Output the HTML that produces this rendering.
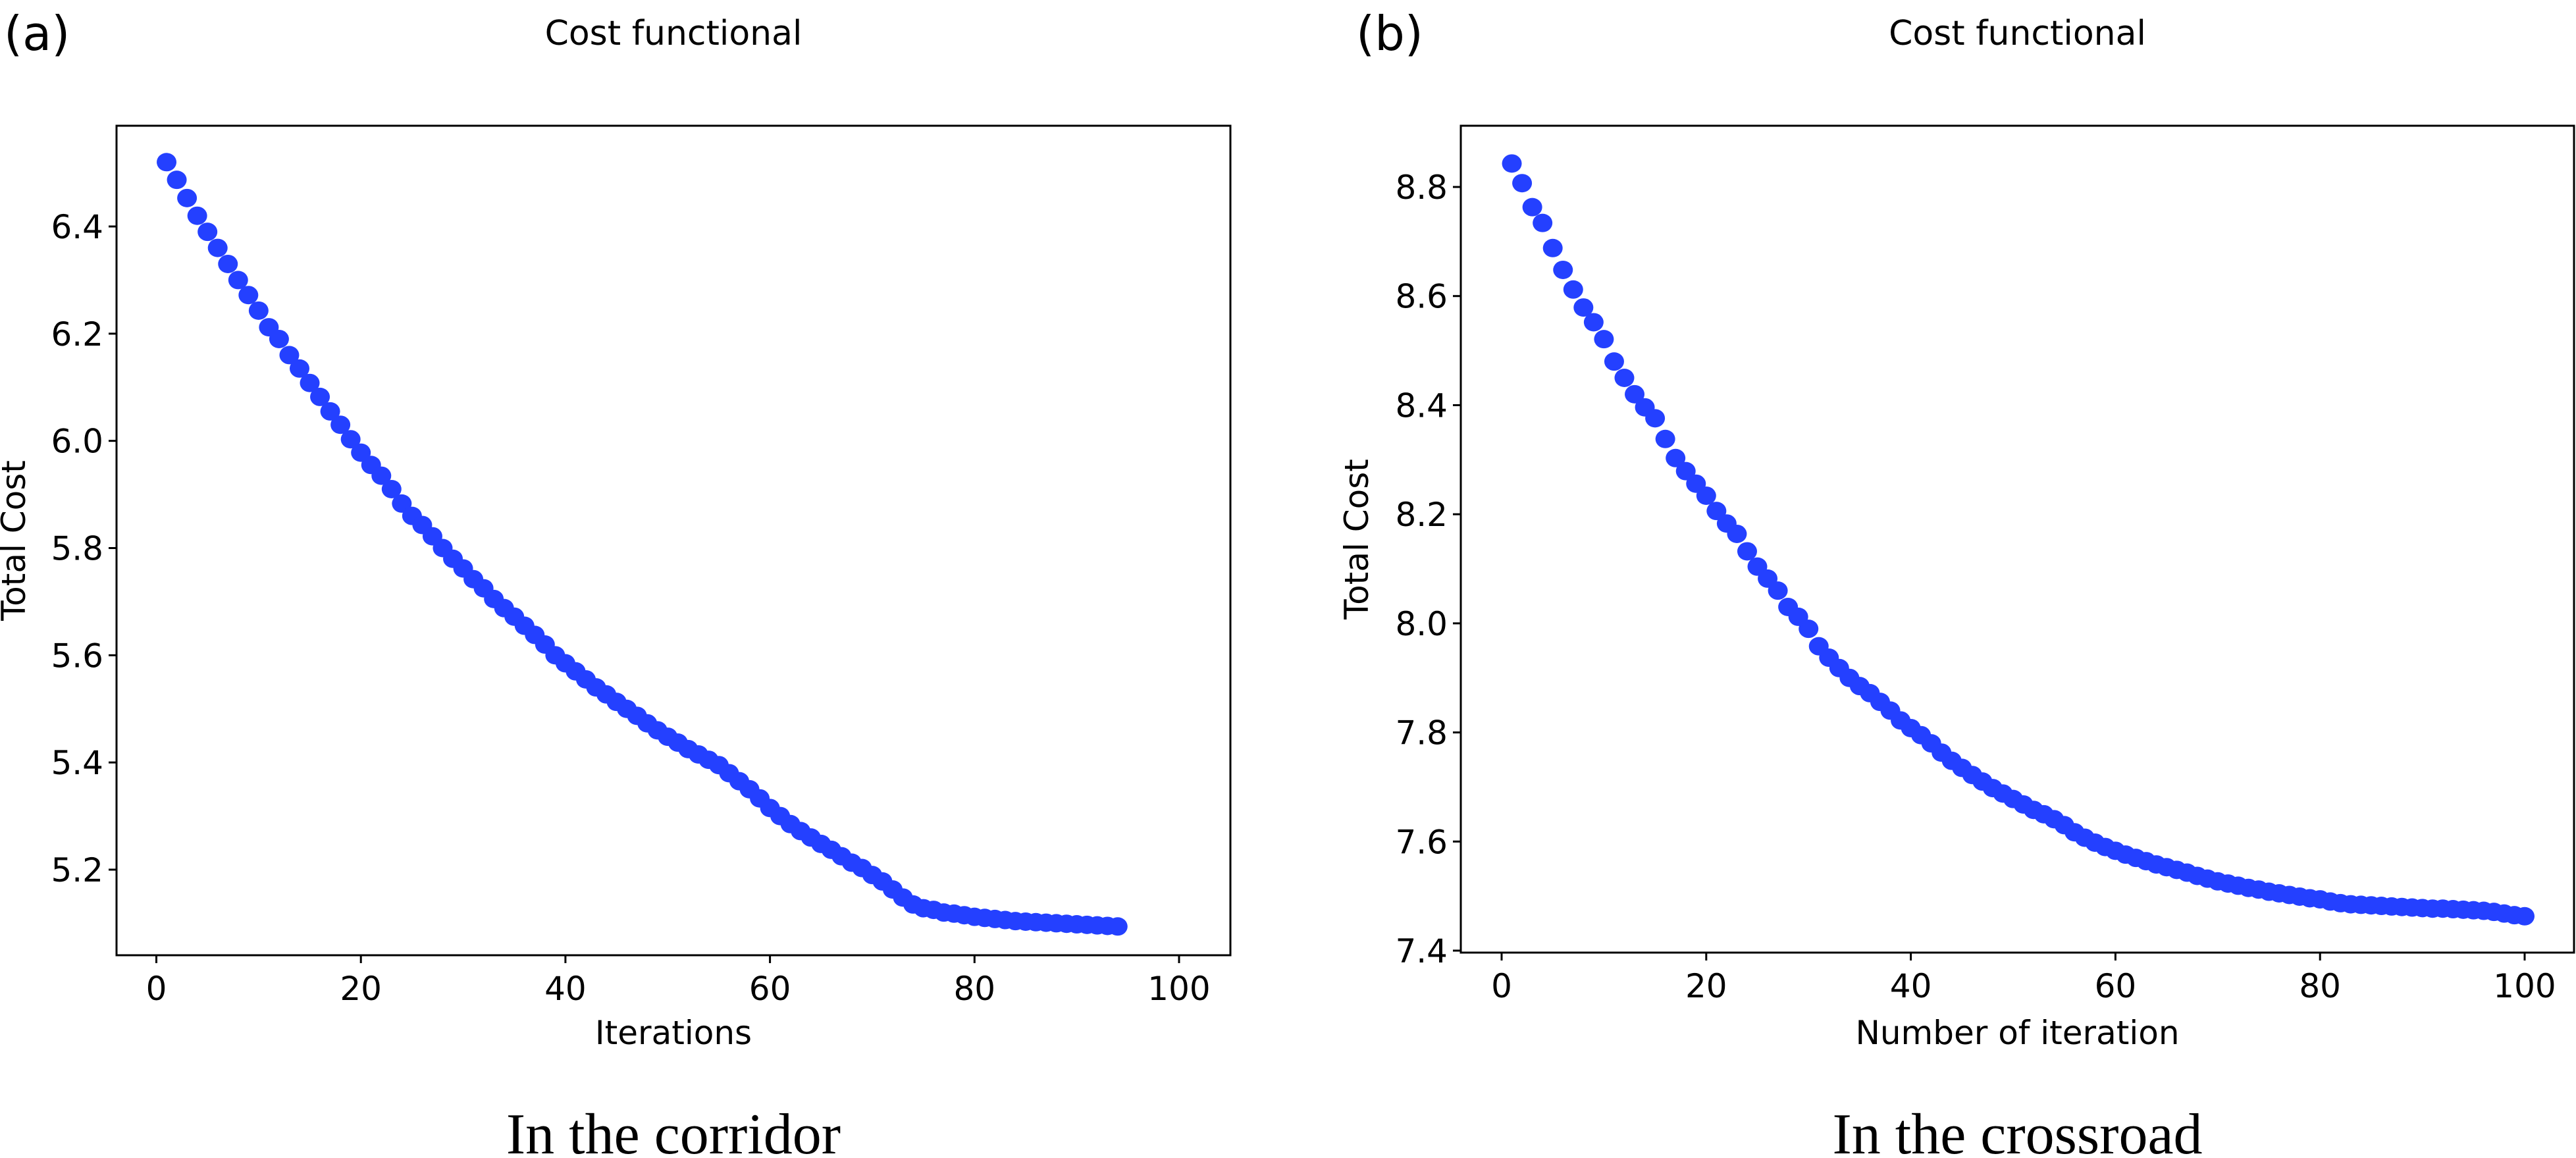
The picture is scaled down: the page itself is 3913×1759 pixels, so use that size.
<!DOCTYPE html>
<html><head><meta charset="utf-8">
<style>
html,body{margin:0;padding:0;background:#fff;}
svg{display:block;}
text{font-family:"DejaVu Sans","Liberation Sans",sans-serif;fill:#000;}
.cap{font-family:"Liberation Serif",serif;}
</style></head>
<body>
<svg id="fig" width="3913" height="1759" viewBox="0 0 3913 1759" xmlns="http://www.w3.org/2000/svg"></svg>
<script>
const xTicks = [0,20,40,60,80,100];
const leftYTicks = [5.2,5.4,5.6,5.8,6.0,6.4,6.2];
const rightYTicks = [7.4,7.6,7.8,8.0,8.2,8.4,8.6,8.8];
const leftCost = [6.52,6.487,6.453,6.42,6.39,6.36,6.33,6.30,6.272,6.243,6.212,6.19,6.16,6.135,6.108,6.082,6.055,6.03,6.003,5.978,5.955,5.935,5.91,5.883,5.86,5.843,5.822,5.80,5.78,5.762,5.742,5.725,5.705,5.688,5.672,5.655,5.638,5.62,5.6,5.585,5.57,5.555,5.54,5.527,5.513,5.50,5.487,5.473,5.46,5.448,5.437,5.425,5.415,5.405,5.395,5.38,5.365,5.35,5.333,5.315,5.30,5.285,5.272,5.26,5.248,5.237,5.225,5.213,5.203,5.19,5.178,5.163,5.148,5.135,5.128,5.125,5.12,5.118,5.115,5.112,5.11,5.108,5.106,5.104,5.103,5.102,5.101,5.1,5.099,5.098,5.097,5.096,5.095,5.094];
const rightCost = [8.843,8.807,8.763,8.734,8.688,8.648,8.612,8.579,8.552,8.521,8.48,8.45,8.42,8.396,8.376,8.338,8.303,8.279,8.256,8.234,8.206,8.183,8.164,8.132,8.104,8.082,8.06,8.03,8.012,7.99,7.958,7.937,7.918,7.9,7.885,7.872,7.856,7.84,7.822,7.808,7.795,7.78,7.763,7.748,7.735,7.722,7.71,7.698,7.688,7.678,7.668,7.658,7.65,7.641,7.63,7.617,7.607,7.598,7.59,7.583,7.576,7.57,7.564,7.558,7.553,7.548,7.543,7.537,7.532,7.527,7.523,7.519,7.515,7.512,7.508,7.505,7.502,7.499,7.496,7.494,7.49,7.487,7.485,7.484,7.483,7.482,7.481,7.48,7.479,7.478,7.477,7.477,7.476,7.475,7.474,7.473,7.471,7.468,7.465,7.463];

const NS="http://www.w3.org/2000/svg";
const svg=document.getElementById('fig');
function mk(tag,attrs,parent,txt){const e=document.createElementNS(NS,tag);for(const k in attrs)e.setAttribute(k,attrs[k]);if(txt!==undefined)e.textContent=txt;(parent||svg).appendChild(e);return e;}

function panel(cfg){
  const g=mk('g',{});
  
  
  const xs=v=>cfg.x0px+(v-0)*(cfg.x100px-cfg.x0px)/100;
  const ys=v=>cfg.yApx+(v-cfg.yA)*(cfg.yBpx-cfg.yApx)/(cfg.yB-cfg.yA);
  // points
  const pg=mk('g',{},g);
  
  
  cfg.data.forEach((v,i)=>{
    const c=mk('ellipse',{cx:xs(i+1),cy:ys(v),rx:15,ry:14,fill:'#2440ff'},pg);
    
    
  });
  const box=mk('rect',{x:cfg.bx0,y:cfg.by0,width:cfg.bx1-cfg.bx0,height:cfg.by1-cfg.by0,fill:'none',stroke:'#000','stroke-width':3},g);
  
  
  xTicks.forEach(t=>{
    const x=xs(t);
    mk('line',{x1:x,x2:x,y1:cfg.by1,y2:cfg.by1+12,stroke:'#000','stroke-width':3},g);
    const l=mk('text',{x:x,y:cfg.by1+68,'font-size':50,'text-anchor':'middle'},g,String(t));
    
    
  });
  cfg.yTicks.forEach(t=>{
    const y=ys(t);
    mk('line',{x1:cfg.bx0-12,x2:cfg.bx0,y1:y,y2:y,stroke:'#000','stroke-width':3},g);
    const l=mk('text',{x:cfg.bx0-20,y:y+18,'font-size':50,'text-anchor':'end'},g,t.toFixed(1));
    
    
  });
  const cx=(cfg.bx0+cfg.bx1)/2;
  const xl=mk('text',{x:cx,y:1586,'font-size':50,'text-anchor':'middle'},g,cfg.xlabel);
  
  
  const ycy=(cfg.by0+cfg.by1)/2;
  const yl=mk('text',{x:cfg.ylx,y:ycy,'font-size':50,'text-anchor':'middle',transform:`rotate(-90 ${cfg.ylx} ${ycy})`},g,'Total Cost');
  
  
  const ti=mk('text',{x:cx,y:68,'font-size':52,'text-anchor':'middle'},g,'Cost functional');
  
  
  const lb=mk('text',{x:cfg.lbx,y:76,'font-size':72,'font-family':'Liberation Sans, sans-serif'},g,cfg.letter);
  
  
  const cp=mk('text',{x:cx,y:1752,'font-size':88,'text-anchor':'middle','class':'cap'},g,cfg.caption);
  
  
}
panel({name:'corridor-panel',data:leftCost,yTicks:leftYTicks,x0px:237.5,x100px:1791,yA:6.4,yApx:344,yB:5.2,yBpx:1321,
  bx0:177,bx1:1869,by0:191,by1:1451,xlabel:'Iterations',ylx:38,lbx:6,letter:'(a)',caption:'In the corridor'});
panel({name:'crossroad-panel',data:rightCost,yTicks:rightYTicks,x0px:2281,x100px:3835,yA:8.8,yApx:284,yB:7.4,yBpx:1444,
  bx0:2219,bx1:3910,by0:191,by1:1447,xlabel:'Number of iteration',ylx:2078,lbx:2060,letter:'(b)',caption:'In the crossroad'});
</script>
</body></html>
